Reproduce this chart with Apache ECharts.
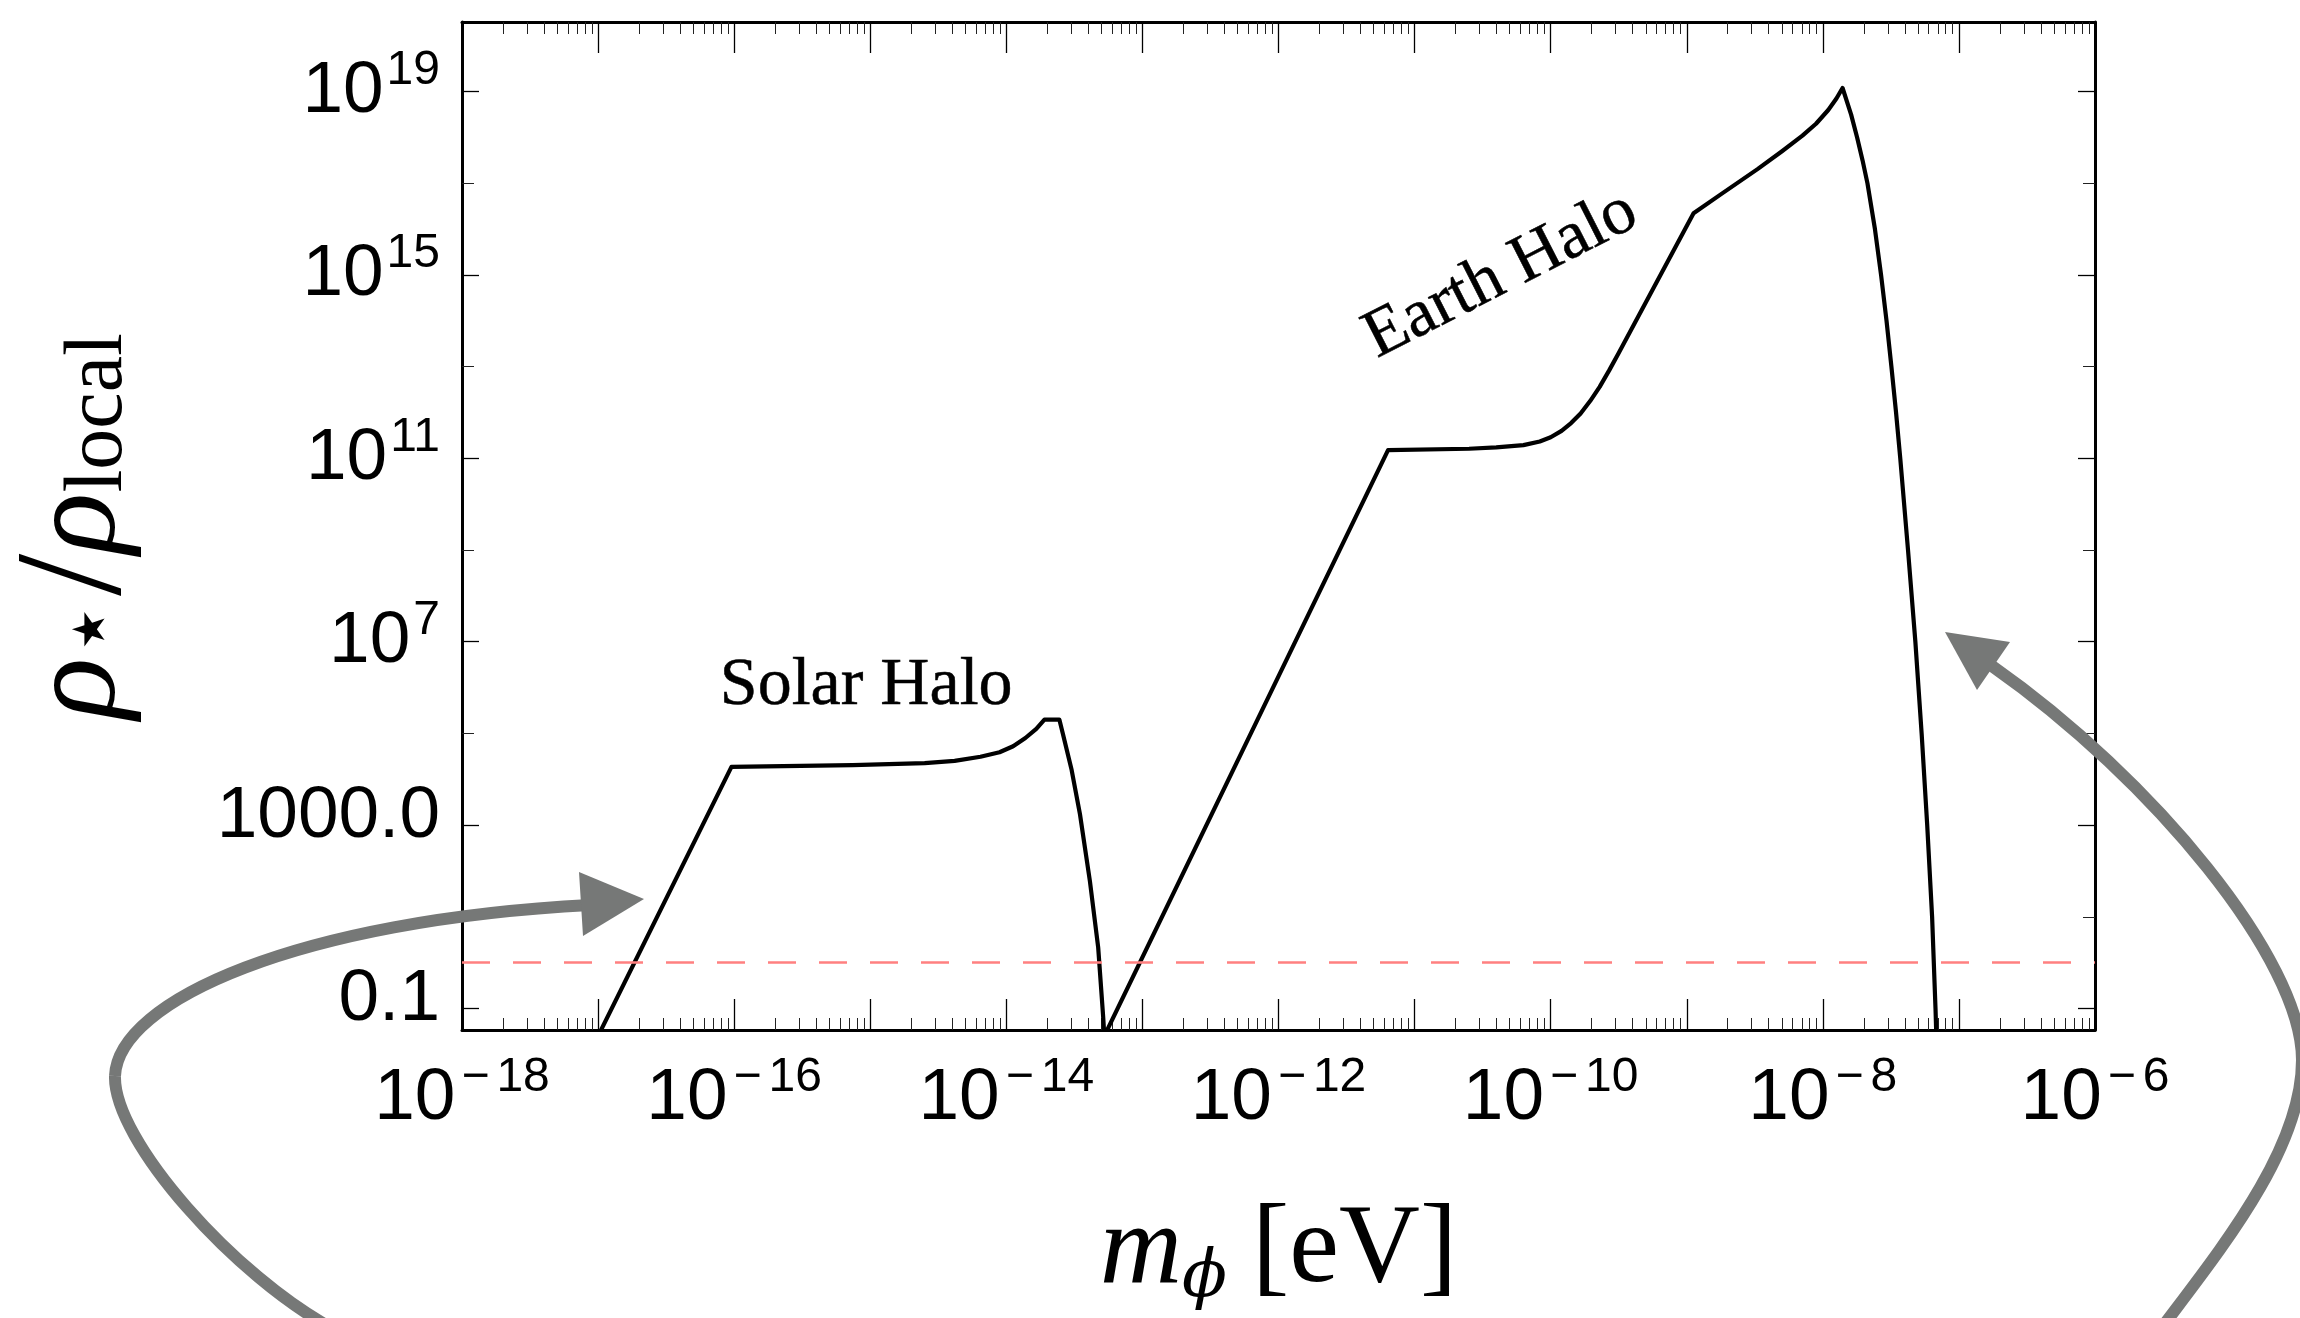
<!DOCTYPE html>
<html>
<head>
<meta charset="utf-8">
<script src="https://cdn.jsdelivr.net/npm/echarts@6/dist/echarts.min.js"></script>
<style>
html,body{margin:0;padding:0;background:#ffffff;}
#chart{width:2300px;height:1318px;}
</style>
</head>
<body>
<div id="chart"></div>
<script>
// ---- data (log10 values) ----
// mass m_phi [eV], as log10
const massExp = [
  -17.10, -16.02, -15.13, -14.60, -14.38, -14.19, -14.05, -13.95, -13.86, -13.78, -13.72, -13.61,
  -13.585, -13.52, -13.459, -13.386, -13.325, -13.288, -13.28,
  -11.195, -10.60, -10.40, -10.20, -10.08, -10.00, -9.92, -9.85, -9.78, -9.71, -9.64, -9.57, -9.50,
  -8.95, -8.75, -8.48, -8.30, -8.15, -8.05, -7.96, -7.90, -7.855,
  -7.792, -7.748, -7.708, -7.672, -7.617, -7.572, -7.532, -7.496, -7.462, -7.431,
  -7.374, -7.32, -7.274, -7.233, -7.197, -7.172, -7.16
];
// rho_star / rho_local, as log10
const densityExp = [
  -2.20, 4.27, 4.31, 4.35, 4.40, 4.49, 4.59, 4.72, 4.90, 5.10, 5.30, 5.30,
  5.00, 4.20, 3.24, 1.78, 0.33, -1.20, -1.60,
  11.18, 11.21, 11.24, 11.29, 11.37, 11.46, 11.60, 11.77, 11.98, 12.25, 12.56, 12.92, 13.30,
  16.35, 16.76, 17.31, 17.70, 18.04, 18.30, 18.60, 18.85, 19.08,
  18.50, 18.00, 17.50, 17.00, 16.00, 15.00, 14.00, 13.00, 12.00, 11.00,
  9.00, 7.00, 5.00, 3.00, 1.00, -1.00, -2.20
];
const unityLevelExp = [0];                 // rho_star / rho_local = 1
const xMajorTickExps = [-18,-17,-16,-15,-14,-13,-12,-11,-10,-9,-8,-7,-6];
const xLabelExps = [-18,-16,-14,-12,-10,-8,-6];
const minorMultipliers = [2,3,4,5,6,7,8,9];
const yLabelExps = [-1,3,7,11,15,19];
const yPlainLabels = {'-1':'0.1', '3':'1000.0'};
const yMinorTickExps = [1,5,9,13,17];
const annotationTexts = ['Solar Halo','Earth Halo'];

const xMinorTickExps = [];
for (let d = -18; d < -6; d++) {
  for (const k of minorMultipliers) xMinorTickExps.push(d + Math.log10(k));
}

const sans = 'Liberation Sans, Arial, Helvetica, sans-serif';
const serif = 'Liberation Serif, Times New Roman, serif';
const black = '#000000';
const arrowColor = '#767877';

const xRich = {
  n:{fontFamily:sans, fontSize:73, lineHeight:90, color:black},
  m:{fontFamily:sans, fontSize:48, lineHeight:47, verticalAlign:'top', color:black, padding:[0,7,0,6]},
  s:{fontFamily:sans, fontSize:48, lineHeight:47, verticalAlign:'top', color:black}
};
const yRich = {
  n:{fontFamily:sans, fontSize:73, lineHeight:90, color:black},
  s:{fontFamily:sans, fontSize:48, lineHeight:47, verticalAlign:'top', color:black, padding:[0,0,0,3]},
  e:{fontFamily:sans, fontSize:1, lineHeight:90},
  q:{fontFamily:sans, fontSize:73, lineHeight:70, verticalAlign:'top', color:black}
};

const frameLine = {show:true, onZero:false, lineStyle:{color:black, width:3}};
const noLine = {show:false, onZero:false};
const majorTickStyle = {color:black, width:1.3};
const minorTickStyle = {color:'#222222', width:1};

const xBase = {type:'value', min:-18, max:-6, gridIndex:0, splitLine:{show:false}};
const yBase = {type:'value', min:-1.47, max:20.52, gridIndex:0, splitLine:{show:false}};

const chart = echarts.init(document.getElementById('chart'), null, {renderer:'canvas'});
chart.setOption({
  animation:false,
  backgroundColor:'#ffffff',
  grid:{left:462, right:205, top:22, bottom:288, containLabel:false, outerBoundsMode:'none'},
  xAxis:[
    Object.assign({}, xBase, {
      position:'bottom', interval:1,
      axisLine:frameLine,
      axisTick:{show:true, inside:true, length:31, customValues:xMajorTickExps, lineStyle:majorTickStyle},
      axisLabel:{show:true, margin:24, customValues:xLabelExps, rich:xRich,
        formatter:function(v){ const e = Math.round(v); return '{n|10}{m|' + (e<0?'\u2212':'') + '}{s|' + Math.abs(e) + '}'; }},
      name:'{m|m}{p|\u03d5}{g| }{b|[eV]}',
      nameLocation:'middle', nameGap:162,
      nameTextStyle:{rich:{
        m:{fontFamily:serif, fontStyle:'italic', fontSize:114, lineHeight:120, color:black},
        p:{fontFamily:'DejaVu Serif', fontStyle:'italic', fontSize:66, lineHeight:72, verticalAlign:'bottom', color:black},
        g:{fontFamily:serif, fontSize:100, lineHeight:120},
        b:{fontFamily:serif, fontSize:112, lineHeight:120, color:black}
      }}
    }),
    Object.assign({}, xBase, {
      position:'bottom', axisLine:noLine,
      axisTick:{show:true, inside:true, length:12, customValues:xMinorTickExps, lineStyle:minorTickStyle},
      axisLabel:{show:false}
    }),
    Object.assign({}, xBase, {
      position:'top', axisLine:frameLine,
      axisTick:{show:true, inside:true, length:31, customValues:xMajorTickExps, lineStyle:majorTickStyle},
      axisLabel:{show:false}
    }),
    Object.assign({}, xBase, {
      position:'top', axisLine:noLine,
      axisTick:{show:true, inside:true, length:12, customValues:xMinorTickExps, lineStyle:minorTickStyle},
      axisLabel:{show:false}
    })
  ],
  yAxis:[
    Object.assign({}, yBase, {
      position:'left', axisLine:frameLine,
      axisTick:{show:true, inside:true, length:17, customValues:yLabelExps, lineStyle:majorTickStyle},
      axisLabel:{show:true, margin:22, customValues:yLabelExps, rich:yRich,
        formatter:function(v){
          const e = Math.round(v);
          if (yPlainLabels[String(e)] !== undefined) return '{e| }{q|' + yPlainLabels[String(e)] + '}';
          return '{n|10}{s|' + e + '}';
        }},
      name:'{r|\u03c1}{s|\u22c6}{g| }{n|/}{r|\u03c1}{t|local}',
      nameLocation:'middle', nameRotate:90, nameGap:322,
      nameTextStyle:{rich:{
        r:{fontFamily:serif, fontStyle:'italic', fontSize:128, lineHeight:120, color:black},
        s:{fontFamily:'DejaVu Sans', fontSize:90, lineHeight:40, verticalAlign:'bottom', color:black},
        g:{fontFamily:serif, fontSize:20, lineHeight:120},
        n:{fontFamily:serif, fontSize:152, lineHeight:120, color:black},
        t:{fontFamily:serif, fontSize:82, lineHeight:56, verticalAlign:'bottom', color:black}
      }}
    }),
    Object.assign({}, yBase, {
      position:'left', axisLine:noLine,
      axisTick:{show:true, inside:true, length:12, customValues:yMinorTickExps, lineStyle:minorTickStyle},
      axisLabel:{show:false}
    }),
    Object.assign({}, yBase, {
      position:'right', axisLine:frameLine,
      axisTick:{show:true, inside:true, length:17, customValues:yLabelExps, lineStyle:majorTickStyle},
      axisLabel:{show:false}
    }),
    Object.assign({}, yBase, {
      position:'right', axisLine:noLine,
      axisTick:{show:true, inside:true, length:12, customValues:yMinorTickExps, lineStyle:minorTickStyle},
      axisLabel:{show:false}
    })
  ],
  series:[
    {
      type:'line', xAxisIndex:0, yAxisIndex:0,
      data: massExp.map(function(x,i){ return [x, densityExp[i]]; }),
      symbol:'none', showSymbol:false, clip:true, silent:true,
      lineStyle:{color:black, width:4.2, join:'round'},
      markLine:{
        silent:true, symbol:'none', label:{show:false},
        lineStyle:{color:'#ff8080', type:[28,23], width:2.5},
        data: unityLevelExp.map(function(v){ return {yAxis:v}; })
      },
      z:3
    },
    {
      type:'scatter', xAxisIndex:0, yAxisIndex:0, symbolSize:0, silent:true,
      itemStyle:{opacity:1, color:black},
      label:{show:true, position:'inside', formatter:'{b}', fontFamily:serif, fontSize:68, color:black,
        opacity:1, textBorderColor:black, textBorderWidth:0.5},
      data:[
        {name:annotationTexts[0], value:[-15.03, 6.04]},
        {name:annotationTexts[1], value:[-10.365, 15.0], label:{rotate:27}}
      ],
      z:4
    }
  ],
  graphic:[
    {type:'bezierCurve', silent:true, z:100,
      shape:{x1:335, y1:1330, cpx1:235, cpy1:1277, cpx2:113, cpy2:1140, x2:115, y2:1076},
      style:{stroke:arrowColor, lineWidth:12, fill:null}},
    {type:'bezierCurve', silent:true, z:100,
      shape:{x1:115, y1:1076, cpx1:118, cpy1:1000, cpx2:300, cpy2:920, x2:590, y2:905},
      style:{stroke:arrowColor, lineWidth:12, fill:null}},
    {type:'polygon', silent:true, z:100,
      shape:{points:[[644,899],[579,872],[583,936]]},
      style:{fill:arrowColor}},
    {type:'bezierCurve', silent:true, z:100,
      shape:{x1:1992, y1:666, cpx1:2153, cpy1:779, cpx2:2302, cpy2:960, x2:2302, y2:1060},
      style:{stroke:arrowColor, lineWidth:12, fill:null}},
    {type:'bezierCurve', silent:true, z:100,
      shape:{x1:2302, y1:1060, cpx1:2302, cpy1:1150, cpx2:2220, cpy2:1250, x2:2160, y2:1330},
      style:{stroke:arrowColor, lineWidth:12, fill:null}},
    {type:'polygon', silent:true, z:100,
      shape:{points:[[1945,632],[1977,690],[2010,642]]},
      style:{fill:arrowColor}}
  ]
});
</script>
</body>
</html>
